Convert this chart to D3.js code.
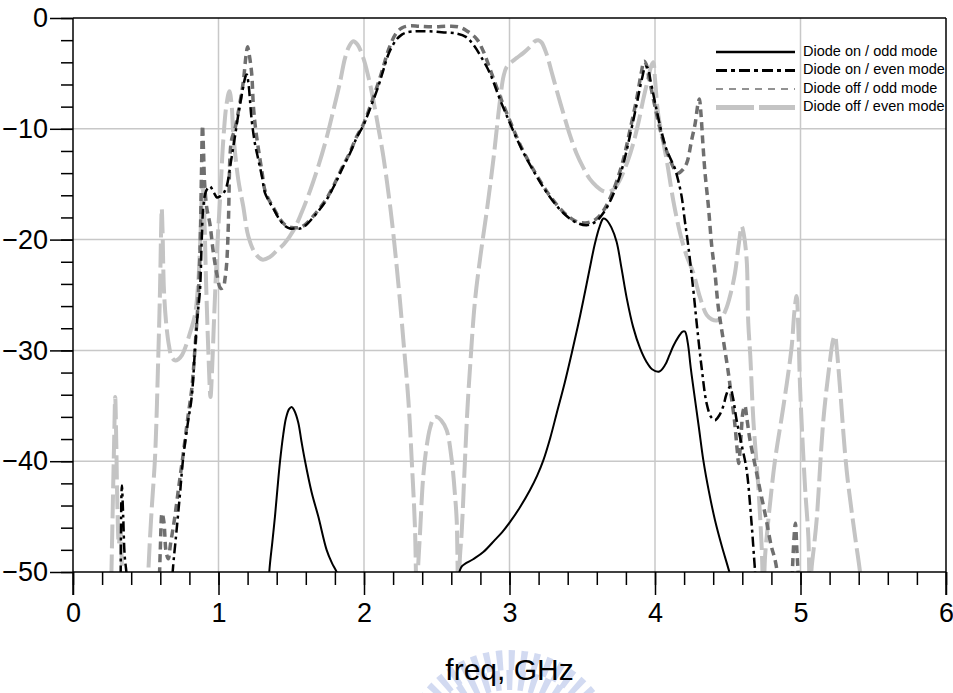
<!DOCTYPE html>
<html>
<head>
<meta charset="utf-8">
<script src="https://cdn.jsdelivr.net/npm/d3@7"></script>
<style>
  body { margin: 0; background: #fff; }
  svg { display: block; }
  text { font-family: "Liberation Sans", Arial, sans-serif; }
</style>
</head>
<body>
<svg id="chart" width="953" height="693"></svg>
<script>
// Axis ticks
const xMajorTicks = [0, 1, 2, 3, 4, 5, 6];
const yMajorTicks = [0, -10, -20, -30, -40, -50];
const xLabel = "freq, GHz";
const seriesNames = ["Diode on / odd mode", "Diode on / even mode", "Diode off / odd mode", "Diode off / even mode"];

// [freq (GHz), dB]; null breaks the trace where it leaves the -50 dB floor
const onOdd = [
  [1.33,-56],[1.349,-50],[1.37,-47.3],[1.388,-45],[1.405,-42.5],[1.423,-40],[1.445,-37.6],[1.464,-36.1],
  [1.485,-35.3],[1.503,-35.1],[1.52,-35.4],[1.548,-36.5],[1.57,-38.2],[1.595,-40],[1.64,-42.8],[1.686,-45],
  [1.743,-48],[1.78,-49.2],[1.812,-50],[1.86,-52],
  null,
  [2.64,-51],[2.672,-49.5],[2.75,-48.85],[2.82,-48.2],[2.9,-47.1],[2.95,-46.4],[3.003,-45.5],[3.07,-44.2],
  [3.141,-42.6],[3.19,-41.3],[3.233,-39.9],[3.28,-37.9],[3.324,-35.7],[3.38,-32.9],[3.427,-30.3],[3.47,-27.8],
  [3.507,-25.5],[3.55,-22.7],[3.588,-20.3],[3.62,-18.8],[3.645,-18.1],[3.665,-18.2],[3.7,-18.9],[3.736,-20.2],
  [3.77,-22.6],[3.806,-25.3],[3.85,-27.9],[3.897,-29.8],[3.94,-31],[3.98,-31.7],[4.03,-31.9],[4.07,-31.3],
  [4.1,-30.4],[4.126,-29.6],[4.16,-28.8],[4.19,-28.3],[4.206,-28.3],[4.225,-29.3],[4.245,-31.5],[4.263,-33.3],
  [4.3,-36.8],[4.332,-39.9],[4.37,-42.7],[4.412,-45.3],[4.46,-47.7],[4.511,-50],[4.55,-52]
];

const onEven = [
  [0.325,-56],[0.333,-43],[0.336,-42.2],[0.345,-45],[0.355,-48.5],[0.37,-50.5],[0.38,-55],
  null,
  [0.67,-54],[0.685,-50],[0.71,-46.5],[0.735,-43],[0.758,-39.6],[0.79,-36.5],[0.816,-34.2],[0.838,-30],
  [0.855,-27],[0.873,-24.5],[0.885,-20],[0.896,-17],[0.915,-15.6],[0.941,-15.2],[0.97,-15.8],[0.99,-16.2],
  [1.01,-16.1],[1.035,-15.8],[1.056,-15.2],[1.085,-13],[1.113,-10.7],[1.14,-8.4],[1.17,-6.2],[1.185,-5.3],
  [1.194,-5.1],[1.205,-5.8],[1.228,-9.2],[1.25,-11.3],[1.274,-12.8],[1.3,-14.4],[1.32,-15.8],[1.35,-16.6],
  [1.377,-17.2],[1.42,-18.2],[1.46,-18.8],[1.491,-19],[1.53,-19],[1.56,-19],[1.6,-18.7],[1.65,-18],
  [1.7,-17.2],[1.743,-16.4],[1.8,-15],[1.85,-13.6],[1.904,-12.2],[1.95,-10.8],[1.995,-9.7],[2.05,-7.9],
  [2.1,-6.1],[2.133,-4.7],[2.17,-3.2],[2.22,-2],[2.26,-1.5],[2.293,-1.3],[2.362,-1.2],[2.45,-1.2],
  [2.55,-1.3],[2.637,-1.4],[2.7,-1.7],[2.751,-2.4],[2.8,-3.4],[2.866,-5],[2.93,-7.2],[3.003,-9.5],
  [3.09,-12],[3.187,-14.3],[3.28,-16.2],[3.37,-17.6],[3.45,-18.4],[3.53,-18.7],[3.59,-18.4],[3.645,-17.6],
  [3.7,-16.3],[3.74,-15],[3.782,-13.2],[3.83,-10.5],[3.874,-7.8],[3.91,-5.5],[3.935,-4.4],[3.95,-4.5],
  [3.97,-5.7],[4.011,-8.3],[4.045,-10.3],[4.08,-11.9],[4.11,-12.8],[4.137,-13.6],[4.16,-14.7],[4.183,-16.1],
  [4.205,-18.3],[4.229,-20.6],[4.263,-24.5],[4.287,-27.6],[4.32,-31.5],[4.355,-34.8],[4.385,-36],[4.412,-36.3],
  [4.44,-35.9],[4.47,-35],[4.49,-34],[4.515,-33.3],[4.535,-34.2],[4.561,-36.3],[4.6,-38.8],[4.63,-40.8],
  [4.66,-45],[4.687,-49.8],[4.7,-52]
];

const offOdd = [
  [0.585,-55],[0.6,-48],[0.612,-44.7],[0.625,-45.5],[0.64,-48.2],[0.655,-48.8],[0.67,-47.5],[0.7,-45],
  [0.73,-42],[0.758,-39.3],[0.79,-36],[0.816,-33.5],[0.84,-29.5],[0.86,-25.5],[0.873,-21],[0.883,-14],
  [0.89,-9.7],[0.897,-12],[0.905,-15],[0.92,-17.2],[0.94,-18.5],[0.965,-21.2],[0.99,-23.2],[1.015,-24.4],
  [1.033,-24.3],[1.045,-23.5],[1.056,-22.2],[1.068,-18.5],[1.079,-12.5],[1.09,-11],[1.113,-10],[1.14,-8.2],
  [1.17,-5.8],[1.19,-3.3],[1.2,-2.6],[1.21,-3.2],[1.228,-5],[1.24,-8],[1.255,-10],[1.274,-11.8],
  [1.3,-14],[1.32,-15.6],[1.35,-16.5],[1.377,-17.1],[1.42,-18.1],[1.46,-18.7],[1.5,-18.9],[1.56,-18.9],
  [1.6,-18.6],[1.65,-17.9],[1.7,-17.1],[1.743,-16.3],[1.8,-14.9],[1.85,-13.5],[1.904,-12.1],[1.95,-10.7],
  [1.995,-9.6],[2.05,-7.7],[2.1,-5.8],[2.133,-4.4],[2.17,-2.8],[2.22,-1.4],[2.26,-0.9],[2.316,-0.7],
  [2.38,-0.75],[2.477,-0.8],[2.58,-0.75],[2.65,-0.8],[2.7,-1.1],[2.775,-1.9],[2.82,-3],[2.866,-4.6],
  [2.93,-6.9],[3.003,-9.3],[3.09,-11.9],[3.187,-14.2],[3.28,-16.1],[3.37,-17.5],[3.45,-18.3],[3.52,-18.5],
  [3.59,-18.2],[3.645,-17.4],[3.7,-16],[3.74,-14.6],[3.782,-12.8],[3.83,-10],[3.874,-7.3],[3.905,-5],
  [3.925,-3.9],[3.94,-4.2],[3.96,-5.5],[4,-8],[4.04,-10.3],[4.08,-12],[4.11,-13],[4.14,-13.8],
  [4.159,-14],[4.19,-13.7],[4.218,-13.1],[4.252,-11],[4.275,-9.6],[4.295,-7.8],[4.305,-7.3],[4.315,-8.5],
  [4.33,-11.5],[4.344,-14],[4.367,-17],[4.39,-20.6],[4.412,-23],[4.435,-26.1],[4.47,-29.1],[4.505,-32.1],
  [4.525,-34.2],[4.546,-36.3],[4.565,-39],[4.575,-40.2],[4.59,-38],[4.605,-35.5],[4.618,-35],[4.63,-36],
  [4.653,-38.1],[4.69,-40.5],[4.722,-42.6],[4.756,-44.7],[4.8,-47.7],[4.825,-48.9],[4.85,-51],[4.87,-55],
  null,
  [4.935,-53],[4.955,-47],[4.965,-45.6],[4.975,-48],[4.985,-50.5],[4.995,-55]
];

const offEven = [
  [0.255,-56],[0.272,-45],[0.283,-38],[0.29,-34.2],[0.297,-38],[0.305,-44],[0.315,-47.5],[0.325,-46],
  [0.335,-49],[0.345,-56],
  null,
  [0.51,-55],[0.518,-50],[0.54,-44.5],[0.564,-39.6],[0.586,-30.6],[0.598,-24.5],[0.605,-19.5],[0.61,-17.2],
  [0.615,-19],[0.625,-24.5],[0.64,-27.5],[0.66,-29.6],[0.678,-30.6],[0.7,-30.9],[0.724,-30.8],[0.75,-30.4],
  [0.77,-29.8],[0.8,-28.6],[0.838,-26.8],[0.86,-24],[0.875,-20],[0.89,-15.1],[0.9,-17],[0.915,-24],
  [0.93,-30],[0.945,-34.2],[0.955,-32],[0.97,-27],[0.99,-21],[1.01,-16.5],[1.033,-11],[1.055,-7.8],
  [1.075,-6.6],[1.09,-7.8],[1.102,-10.5],[1.136,-14.6],[1.17,-17],[1.205,-19.7],[1.251,-21.2],[1.3,-21.8],
  [1.35,-21.6],[1.4,-21],[1.45,-20.4],[1.514,-19.2],[1.57,-17.6],[1.629,-15.6],[1.69,-13.2],[1.743,-10.8],
  [1.79,-8.3],[1.835,-5.8],[1.87,-3.6],[1.9,-2.5],[1.926,-2.1],[1.955,-2.4],[1.995,-3.6],[2.03,-5.3],
  [2.064,-7.4],[2.1,-10],[2.133,-12.5],[2.17,-16],[2.201,-19.4],[2.247,-25.5],[2.27,-29],[2.305,-34.5],
  [2.328,-39.9],[2.35,-45.9],[2.362,-52],[2.374,-49],[2.385,-46.5],[2.407,-41.4],[2.43,-38.7],[2.454,-37],
  [2.48,-36.1],[2.5,-36],[2.53,-36.3],[2.568,-37.2],[2.603,-39.9],[2.625,-43],[2.637,-45.3],[2.648,-52],
  [2.66,-48.5],[2.671,-46.5],[2.694,-39.9],[2.71,-35.5],[2.729,-31.5],[2.763,-25.5],[2.8,-21.5],[2.843,-17.5],
  [2.889,-12.8],[2.935,-7.4],[2.96,-5.2],[2.981,-4.4],[3.02,-3.9],[3.05,-3.6],[3.1,-3.1],[3.141,-2.6],
  [3.175,-2.1],[3.198,-2],[3.22,-2.2],[3.256,-3.3],[3.29,-4.9],[3.324,-6.5],[3.37,-8.6],[3.416,-10.6],
  [3.46,-12.2],[3.507,-13.5],[3.55,-14.5],[3.599,-15.2],[3.64,-15.6],[3.679,-15.7],[3.72,-15.4],[3.759,-14.6],
  [3.81,-13],[3.851,-11.3],[3.89,-9.2],[3.92,-7.3],[3.95,-5.6],[3.975,-4.3],[3.988,-4],[4,-5.5],
  [4.02,-8.5],[4.045,-10.4],[4.08,-12.8],[4.126,-16.5],[4.172,-19.4],[4.218,-21.5],[4.263,-23],[4.309,-25.2],
  [4.355,-26.8],[4.39,-27.2],[4.424,-27.3],[4.46,-27],[4.493,-26.1],[4.525,-24.6],[4.55,-23],[4.575,-20.5],
  [4.596,-18.8],[4.61,-19.5],[4.63,-21.8],[4.641,-27.5],[4.655,-30.5],[4.676,-36.3],[4.71,-42.3],[4.733,-47.7],
  [4.745,-52],[4.757,-48.5],[4.779,-45.3],[4.825,-39.9],[4.882,-35.1],[4.939,-29.7],[4.958,-26.5],[4.973,-25.1],
  [4.985,-28],[4.997,-33.3],[5.031,-42.3],[5.054,-46.8],[5.065,-52],[5.077,-49.5],[5.09,-48],[5.111,-45.3],
  [5.157,-36.3],[5.203,-30.9],[5.225,-29],[5.237,-28.7],[5.25,-30],[5.271,-33.3],[5.317,-40.8],[5.375,-46.8],
  [5.409,-50],[5.43,-53]
];

const traces = [
  { name: seriesNames[3], data: offEven, color: "#c4c4c4", width: 4,   dash: "24,6",     legendWidth: 5,   legendDash: "38,5" },
  { name: seriesNames[2], data: offOdd,  color: "#6f6f6f", width: 3.5, dash: "8,5",      legendWidth: 1.5, legendDash: "7,6" },
  { name: seriesNames[1], data: onEven,  color: "#000000", width: 2.5, dash: "10,4,3,4", legendWidth: 3,   legendDash: "11,4,4,4" },
  { name: seriesNames[0], data: onOdd,   color: "#000000", width: 2,   dash: null,       legendWidth: 2.5, legendDash: null }
];

const svg = d3.select("#chart");
const x = d3.scaleLinear().domain([0, 6]).range([73, 946]);
const y = d3.scaleLinear().domain([-50, 0]).range([572, 18]);

svg.append("defs").append("clipPath").attr("id", "plotArea")
  .append("rect")
  .attr("x", x(0)).attr("y", y(0) - 4)
  .attr("width", x(6) - x(0)).attr("height", y(-50) - y(0) + 4);

// watermark seal arc under the axis title
const seal = d3.arc()({ innerRadius: 80, outerRadius: 100, startAngle: -Math.PI / 2, endAngle: Math.PI / 2 });
svg.append("path")
  .attr("d", seal)
  .attr("transform", `translate(${(x(0) + x(6)) / 2},760)`)
  .attr("fill", "none")
  .attr("stroke", "#cdd6f0")
  .attr("stroke-width", 20)
  .attr("stroke-dasharray", "6,6")
  .attr("opacity", 0.9);

// grid
const grid = svg.append("g").attr("stroke", "#c8c8c8").attr("stroke-width", 1.5);
grid.selectAll("line.vx").data(xMajorTicks.slice(1, -1)).join("line")
  .attr("x1", d => x(d)).attr("x2", d => x(d)).attr("y1", y(0)).attr("y2", y(-50));
grid.selectAll("line.hy").data(yMajorTicks.slice(1, -1)).join("line")
  .attr("x1", x(0)).attr("x2", x(6)).attr("y1", d => y(d)).attr("y2", d => y(d));

// traces
const line = d3.line()
  .defined(d => d !== null)
  .x(d => x(d[0]))
  .y(d => y(d[1]))
  .curve(d3.curveCatmullRom.alpha(0.5));

const plot = svg.append("g").attr("clip-path", "url(#plotArea)");
traces.forEach(t => {
  plot.append("path")
    .datum(t.data)
    .attr("d", line)
    .attr("fill", "none")
    .attr("stroke", t.color)
    .attr("stroke-width", t.width)
    .attr("stroke-dasharray", t.dash)
    .attr("stroke-linejoin", "round");
});

// axes
const xMinor = d3.range(0, 30.5, 1).map(i => i / 5);
const yMinor = d3.range(0, -50.5, -2);

function styleAxis(g) {
  g.selectAll("path.domain").remove();
  g.selectAll("line").attr("stroke", "#000").attr("stroke-width", 1.5);
  g.selectAll("text").attr("fill", "#000").attr("font-size", 27)
    .attr("font-family", "'Liberation Sans', Arial, sans-serif");
}

svg.append("g").attr("transform", `translate(0,${y(-50)})`)
  .call(d3.axisBottom(x).tickValues(xMinor).tickSize(13).tickFormat(""))
  .call(styleAxis);
svg.append("g").attr("transform", `translate(0,${y(-50)})`)
  .call(d3.axisBottom(x).tickValues(xMajorTicks).tickSize(23).tickPadding(8).tickFormat(d3.format("d")))
  .call(styleAxis);

svg.append("g").attr("transform", `translate(${x(0)},0)`)
  .call(d3.axisLeft(y).tickValues(yMinor).tickSize(12).tickFormat(""))
  .call(styleAxis);
svg.append("g").attr("transform", `translate(${x(0)},0)`)
  .call(d3.axisLeft(y).tickValues(yMajorTicks).tickSize(23).tickPadding(2).tickFormat(d3.format("d")))
  .call(styleAxis);

// frame
const frame = svg.append("g").attr("stroke", "#000").attr("stroke-width", 1.5);
frame.append("line").attr("x1", x(0)).attr("x2", x(6)).attr("y1", y(0)).attr("y2", y(0));
frame.append("line").attr("x1", x(0)).attr("x2", x(6)).attr("y1", y(-50)).attr("y2", y(-50));
frame.append("line").attr("x1", x(0)).attr("x2", x(0)).attr("y1", y(0)).attr("y2", y(-50) + 23);
frame.append("line").attr("x1", x(6)).attr("x2", x(6)).attr("y1", y(0)).attr("y2", y(-50) + 23);

// axis title
svg.append("text")
  .attr("x", (x(0) + x(6)) / 2).attr("y", 680)
  .attr("text-anchor", "middle")
  .attr("font-size", 30)
  .attr("fill", "#000")
  .text(xLabel);

// legend
const legendOrder = [traces[3], traces[2], traces[1], traces[0]];
const legend = svg.append("g");
legendOrder.forEach((t, i) => {
  const ly = 52 + i * 18.5;
  legend.append("line")
    .attr("x1", 716).attr("x2", 795).attr("y1", ly).attr("y2", ly)
    .attr("stroke", t.color)
    .attr("stroke-width", t.legendWidth)
    .attr("stroke-dasharray", t.legendDash);
  legend.append("text")
    .attr("x", 803).attr("y", ly)
    .attr("dominant-baseline", "middle")
    .attr("font-size", 14.5)
    .attr("fill", "#000")
    .text(t.name);
});
</script>
</body>
</html>
